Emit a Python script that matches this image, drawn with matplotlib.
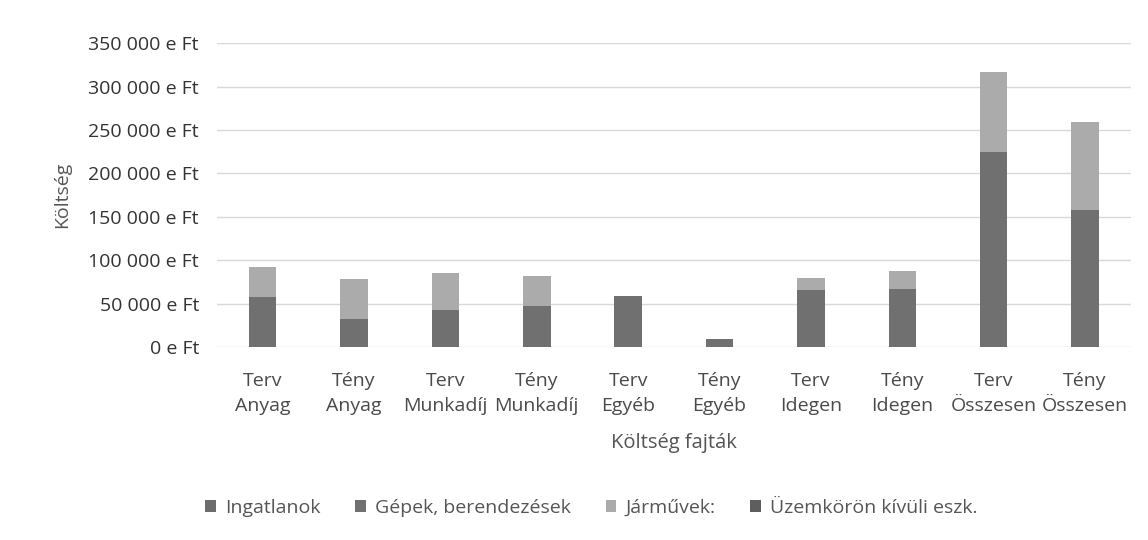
import matplotlib
matplotlib.use("Agg")
import matplotlib.pyplot as plt
from matplotlib.ticker import FuncFormatter
import numpy as np

categories = ["Terv\nAnyag", "Tény\nAnyag", "Terv\nMunkadíj", "Tény\nMunkadíj", "Terv\nEgyéb",
              "Tény\nEgyéb", "Terv\nIdegen", "Tény\nIdegen", "Terv\nÖsszesen", "Tény\nÖsszesen"]
series_names = ["Ingatlanok", "Gépek, berendezések", "Járművek:", "Üzemkörön kívüli eszk."]
ingatlanok = [0, 0, 0, 0, 0, 0, 0, 0, 0, 0]
gepek = [58000, 33000, 43000, 47000, 59000, 9500, 66000, 67000, 225000, 158000]
jarmuvek = [34000, 46000, 43000, 35000, 0, 0, 13500, 21000, 92000, 101000]
uzemkoron = [0, 0, 0, 0, 0, 0, 0, 0, 0, 0]
colors = ["#6c6c6c", "#707070", "#ababab", "#5e5e5e"]

plt.rcParams['font.family'] = ['Open Sans', 'DejaVu Sans']
fig = plt.figure(figsize=(11.48, 5.4), dpi=100)
ax = fig.add_axes([0.189, 0.357, 0.796, 0.563])

x = np.arange(len(categories))
bottom = np.zeros(len(categories))
for name, vals, c in zip(series_names, [ingatlanok, gepek, jarmuvek, uzemkoron], colors):
    v = np.array(vals, dtype=float)
    ax.bar(x, v, 0.3, bottom=bottom, color=c, label=name, zorder=3)
    bottom += v

ax.set_ylim(0, 350000)
ax.set_xlim(-0.5, len(categories) - 0.5)
ax.set_yticks(np.arange(0, 350001, 50000))
ax.yaxis.set_major_formatter(FuncFormatter(lambda v, p: f"{int(v):,} e Ft".replace(",", " ")))
ax.grid(axis='y', color='#d9d9d9', linewidth=1, zorder=0)
ax.set_xticks(x)
ax.set_xticklabels(categories, fontsize=14, color='#4a4a4a', linespacing=1.45)
ax.tick_params(axis='x', length=0, pad=18)
ax.tick_params(axis='y', length=0, pad=13, labelsize=14, labelcolor='#333333')
for s in ax.spines.values():
    s.set_visible(False)
ax.set_ylabel("Költség", fontsize=14, color='#555555', labelpad=12)
ax.set_xlabel("Költség fajták", fontsize=14.5, color='#555555', labelpad=13)

fig.legend(loc='center', bbox_to_anchor=(0.515, 0.06), ncol=4, frameon=False,
           fontsize=14, handlelength=0.55, handleheight=0.55, handletextpad=0.45,
           columnspacing=1.8, labelcolor='#555555')

fig.savefig("out.png", dpi=100)
